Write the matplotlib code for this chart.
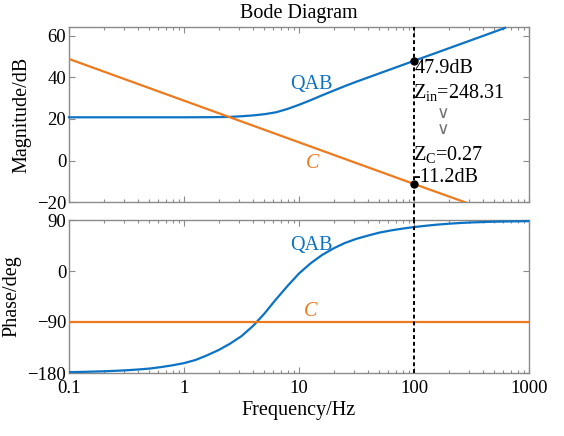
import matplotlib
matplotlib.use("Agg")
import matplotlib.pyplot as plt
from matplotlib.ticker import LogLocator, NullFormatter, FixedLocator

plt.rcParams['font.family'] = ['Liberation Serif', 'DejaVu Serif']
plt.rcParams['mathtext.fontset'] = 'custom'
plt.rcParams['mathtext.rm'] = 'Liberation Serif'
plt.rcParams['mathtext.it'] = 'Liberation Serif:italic'

# ---- data ----
freq_tick_labels = ['0.1', '1', '10', '100', '1000']
freq_ticks = [0.1, 1, 10, 100, 1000]

qab_mag_f = [0.1, 1, 1.58, 2, 2.51, 3.16, 3.98, 5.01, 6.31, 7.94, 10, 12.6, 15.8, 20,
             25.1, 31.6, 39.8, 50.1, 63.1, 79.4, 100, 200, 400, 618]
qab_mag_db = [20.8, 20.8, 20.85, 20.9, 21.0, 21.3, 21.7, 22.3, 23.2, 24.8, 26.8, 29.0,
              31.3, 33.6, 35.8, 37.9, 39.9, 41.9, 43.9, 45.9, 47.9, 53.9, 59.9, 63.7]

c_mag_f = [0.1, 100, 279]
c_mag_db = [48.8, -11.2, -20.0]

qab_ph_f = [0.1, 0.126, 0.158, 0.2, 0.25, 0.316, 0.4, 0.5, 0.63, 0.79, 1.0, 1.26, 1.58,
            2.0, 2.51, 3.16, 3.98, 5.01, 6.31, 7.94, 10, 12.6, 15.8, 20, 25.1, 31.6, 39.8,
            50.1, 63.1, 79.4, 100, 126, 158, 200, 251, 316, 398, 501, 631, 794, 1000]
qab_ph_deg = [-178.5, -178.1, -177.6, -177, -176.2, -175.2, -173.8, -172.2, -169.6, -166.5,
              -162.6, -157, -149, -139.5, -128.3, -115, -97, -75, -50, -26.5, -4.4, 13.5,
              28, 40, 49.5, 56.8, 62.5, 67.8, 71.6, 74.8, 77.5, 79.8, 81.8, 83.4, 84.7,
              85.7, 86.4, 87.0, 87.4, 87.7, 88]

c_ph_f = [0.1, 1000]
c_ph_deg = [-90, -90]

marker_f = 100
marker_db = [47.9, -11.2]

mag_ticks = [-20, 0, 20, 40, 60]
ph_ticks = [-180, -90, 0, 90]

BLUE = '#0C72C4'
ORANGE = '#EE7A1E'
SPINE = '#8a8a8a'
FS = 13.5
FL = 14.5

fig = plt.figure(figsize=(5.64, 4.36), dpi=100)
W, H = 564, 436
ax1 = fig.add_axes([69 / W, 1 - 202.3 / H, 460 / W, 175 / H])
ax2 = fig.add_axes([69 / W, 1 - 373 / H, 460 / W, 153 / H])

for ax in (ax1, ax2):
    ax.set_xscale('log')
    ax.set_xlim(0.1, 1000)
    for s in ax.spines.values():
        s.set_color(SPINE)
        s.set_linewidth(1.0)
    ax.tick_params(which='both', direction='in', top=True, right=True, color=SPINE,
                   labelsize=FS, pad=2)
    ax.tick_params(which='major', length=4.5, width=0.8)
    ax.tick_params(which='minor', length=2.5, width=0.8)
    ax.xaxis.set_major_locator(FixedLocator(freq_ticks))
    ax.xaxis.set_minor_locator(LogLocator(base=10, subs=range(2, 10)))
    ax.xaxis.set_minor_formatter(NullFormatter())

# magnitude
ax1.plot(qab_mag_f, qab_mag_db, color=BLUE, lw=1.6, clip_on=False, zorder=3)
ax1.plot(c_mag_f, c_mag_db, color=ORANGE, lw=1.6, zorder=3)
ax1.set_ylim(-20, 64)
ax1.set_yticks(mag_ticks)
ax1.set_xticklabels([])
ax1.set_ylabel('Magnitude/dB', fontsize=FL, labelpad=4)
ax1.set_title('Bode Diagram', fontsize=FL, pad=7)
ax1.axvline(marker_f, ymin=-0.105, ymax=1, color='black', ls=(0, (2, 1.5)), lw=1.4,
            clip_on=False, zorder=4)
ax1.plot([marker_f, marker_f], marker_db, 'o', color='black', ms=5, zorder=5)

ax1.text(marker_f * 1.02, 44.3, '47.9dB', fontsize=FL, va='center', ha='left')
ax1.text(marker_f * 0.99, 32.8, r'Z$_{\mathrm{in}}$=248.31', fontsize=FL, va='center', ha='left')
ax1.text(marker_f * 1.8, 18.9, '\u2228\n\u2228', fontsize=12.5, color='#777777', va='center',
         ha='center', linespacing=0.85, family=['DejaVu Sans'])
ax1.text(marker_f * 0.99, 3.1, r'Z$_{\mathrm{C}}$=0.27', fontsize=FL, va='center', ha='left')
ax1.text(marker_f * 0.99, -7.9, '-11.2dB', fontsize=FL, va='center', ha='left')
ax1.text(12.7, 36.7, 'QAB', color=BLUE, fontsize=FL, ha='center', va='center')
ax1.text(13.2, -1.6, 'C', color=ORANGE, fontsize=FL, ha='center', va='center', style='italic')

# phase
ax2.plot(qab_ph_f, qab_ph_deg, color=BLUE, lw=1.6, zorder=3)
ax2.plot(c_ph_f, c_ph_deg, color=ORANGE, lw=1.6, zorder=3)
ax2.set_ylim(-180, 90)
ax2.set_yticks(ph_ticks)
ax2.set_xticklabels(freq_tick_labels)
ax2.tick_params(axis='x', pad=5)
ax2.set_ylabel('Phase/deg', fontsize=FL, labelpad=4)
ax2.set_xlabel('Frequency/Hz', fontsize=FL, labelpad=3)
ax2.axvline(marker_f, color='black', ls=(0, (2, 1.5)), lw=1.4, zorder=4)
ax2.text(12.7, 44.9, 'QAB', color=BLUE, fontsize=FL, ha='center', va='center')
ax2.text(12.7, -72, 'C', color=ORANGE, fontsize=FL, ha='center', va='center', style='italic')

fig.savefig('out.png', dpi=100)
